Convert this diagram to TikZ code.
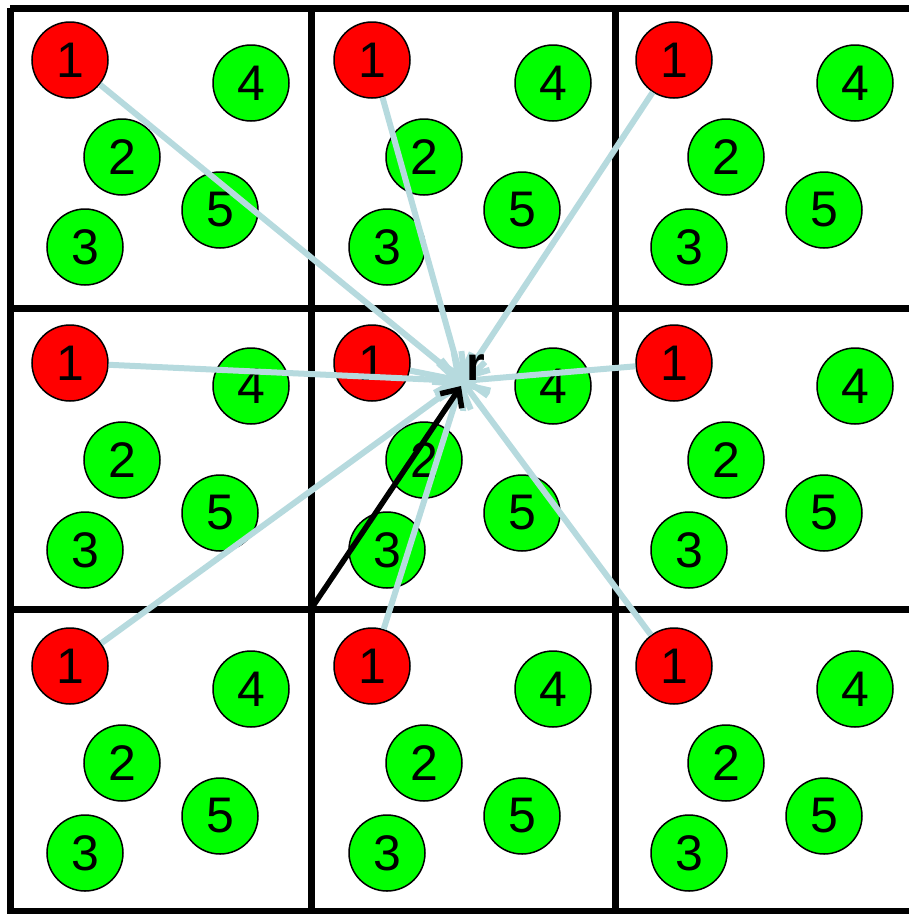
\documentclass[tikz,border=0pt]{standalone}
\usepackage{fontspec}
\setmainfont{Liberation Sans}
\usetikzlibrary{arrows.meta}
\definecolor{raycol}{RGB}{182,218,222}
\begin{document}
\begin{tikzpicture}[x=1pt,y=-1pt,
  ball/.style={circle,draw=black,line width=1.5pt,minimum size=76pt,inner sep=0pt,font=\fontsize{50}{50}\selectfont},
  hot/.style={ball,fill=red},
  cool/.style={ball,fill=green},
  gridline/.style={line width=7pt},
  ray/.style={draw=raycol,line width=6pt,-{Straight Barb[length=20pt,width=34pt]}},
  vec/.style={draw=black,line width=5.5pt,-{Straight Barb[length=14pt,width=26pt]}}]
\useasboundingbox (0,0) rectangle (909,914);
% grid
\draw[gridline] (10,8) -- (909,8);
\draw[gridline] (10,308) -- (909,308);
\draw[gridline] (10,609) -- (909,609);
\draw[gridline] (10,911) -- (909,911);
\draw[gridline] (10,8) -- (10,914);
\draw[gridline] (311,8) -- (311,914);
\draw[gridline] (615,8) -- (615,914);
% particles
\foreach \i in {0,1,2}{
  \foreach \j in {0,1,2}{
    \node[cool] (d\i\j) at (251+302*\i, 83+303*\j) {4};
    \node[cool] (b\i\j) at (122+302*\i,157+303*\j) {2};
    \node[cool] (e\i\j) at (220+302*\i,210+303*\j) {5};
    \node[cool] (c\i\j) at (85+302*\i, 247+303*\j) {3};
  }
}
\coordinate (r) at (462,381);
\coordinate (rt) at (461,386);
\coordinate (o) at (311,609);
\foreach \i in {0,1,2}{
  \foreach \j in {0,1,2}{
    \node[hot] (a\i\j) at (70+302*\i, 60+303*\j) {1};
  }
}
\foreach \i in {0,1,2}{
  \foreach \j in {0,1,2}{
    \draw[ray] (a\i\j) -- (r);
  }
}
\draw[vec] (o) -- (rt);
\node[anchor=base west,inner sep=0pt,font=\fontsize{48}{48}\selectfont\bfseries] (rl) at (466,380) {r};
\end{tikzpicture}
\end{document}
